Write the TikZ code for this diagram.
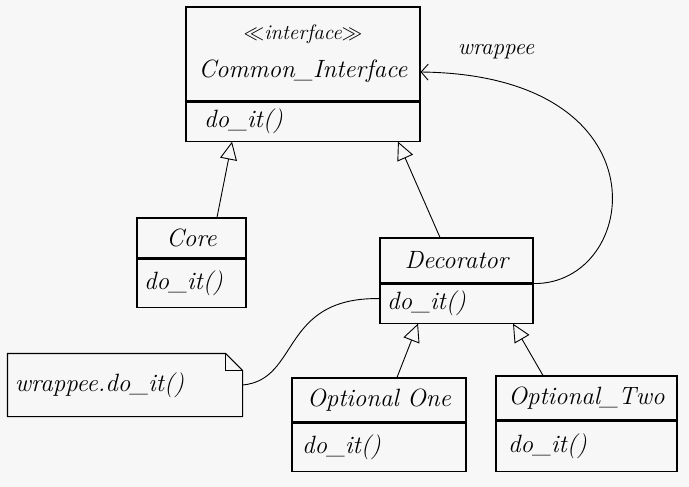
\documentclass[tikz,border=0pt]{standalone}
\usepackage{fontspec}
\usetikzlibrary{arrows.meta}
\definecolor{paper}{RGB}{247,247,247}

\begin{document}
\begin{tikzpicture}[x=1pt, y=-1pt, line width=1.1pt,
  part/.style={rectangle, draw, inner xsep=7pt, inner ysep=0pt, text width=#1, font=\fontsize{25}{29}\selectfont\itshape},
  head/.style={part=#1, align=center},
  ops/.style={part=#1, align=left, anchor=north},
  inherit/.style={-{Triangle[open, length=18pt, width=17pt]}, line width=0.9pt},
  assoc/.style={-{Straight Barb[length=7pt, width=16pt]}, line width=0.9pt}]
  \useasboundingbox[fill=paper] (0,0) rectangle (689,487);

  % classes
  \node[head=220pt, minimum height=94pt] (cihead) at (303,54) {{\fontsize{21}{24}\selectfont$\ll$interface$\gg$}\\[9pt] Common\_Interface};
  \node[ops=220pt, minimum height=39pt] (ciops) at (cihead.south) {\hspace*{11pt}do\_it()};

  \node[head=95pt, minimum height=40pt] (corehead) at (191.5,238) {Core};
  \node[ops=95pt, minimum height=48pt] (coreops) at (corehead.south) {do\_it()};

  \node[head=139pt, minimum height=45pt] (dechead) at (456.5,260.5) {Decorator};
  \node[ops=139pt, minimum height=39pt] (decops) at (dechead.south) {do\_it()};

  \node[head=160pt, minimum height=44pt] (onehead) at (379,400) {Optional One};
  \node[ops=160pt, minimum height=48pt] (oneops) at (onehead.south) {\hspace*{3pt}do\_it()};

  \node[head=167pt, minimum height=44pt] (twohead) at (586.5,398) {Optional\_Two};
  \node[ops=167pt, minimum height=50pt] (twoops) at (twohead.south) {\hspace*{5pt}do\_it()};

  % note
  \node[part=220pt, draw=none, align=left, minimum height=62pt] (memo) at (125,385) {wrappee.do\_it()};
  \draw (memo.north west) -- ([xshift=-17pt]memo.north east) -- ([yshift=-17pt]memo.north east)
    -- (memo.south east) -- (memo.south west) -- cycle;
  \draw ([xshift=-17pt]memo.north east) |- ([yshift=-17pt]memo.north east);

  % connectors
  \draw[inherit] ([xshift=25.5pt]corehead.north) -- ([xshift=-71pt]ciops.south);
  \draw[inherit] ([xshift=-16.5pt]dechead.north) -- ([xshift=95pt]ciops.south);
  \draw[inherit] ([xshift=18pt]onehead.north) -- ([xshift=-38.5pt]decops.south);
  \draw[inherit] ([xshift=-43.5pt]twohead.north) -- ([xshift=56.5pt]decops.south);

  \draw[assoc] (dechead.south east) .. controls (640,285) and (670,75) .. ([yshift=-18pt]cihead.east);
  \node[font=\fontsize{23}{26}\selectfont\itshape] (wraplabel) at (496,52) {wrappee};

  \draw[line width=0.9pt] (memo.east) .. controls (300,380) and (280,297) .. ([yshift=5pt]decops.west);
\end{tikzpicture}
\end{document}
